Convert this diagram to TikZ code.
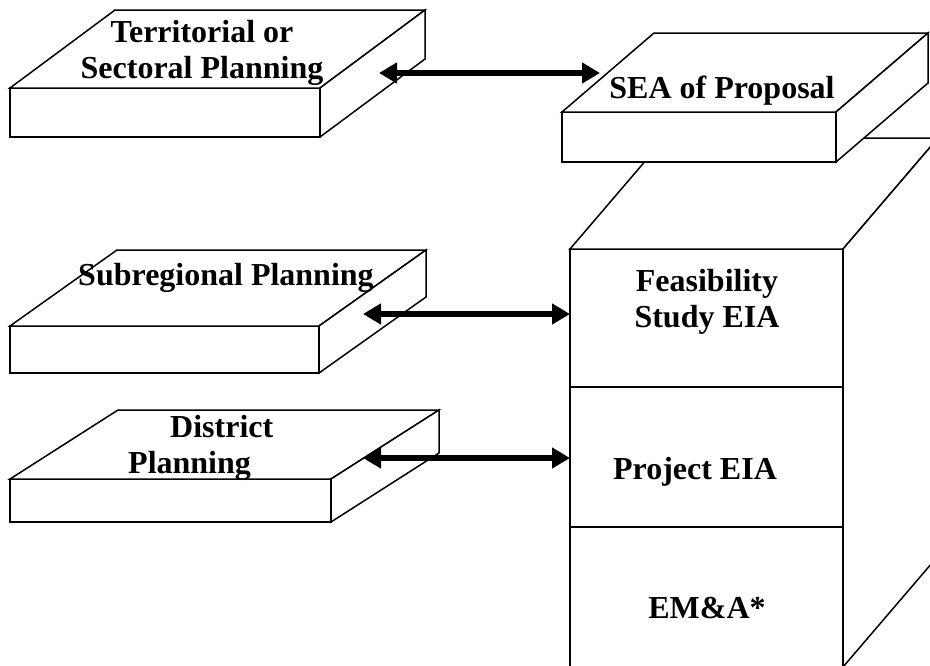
\documentclass[tikz,border=0pt]{standalone}
\usepackage{fontspec}
\setmainfont{Liberation Serif}
\usetikzlibrary{calc,arrows.meta}

\begin{document}
\begin{tikzpicture}[
    x=1pt, y=-1pt,
    every node/.style={font=\bfseries\fontsize{32}{36}\selectfont},
    face/.style={draw, fill=white, line width=1.5pt, line join=miter},
    front/.style={face, inner sep=0pt, outer sep=0pt, anchor=north west},
    label/.style={align=center, inner sep=0pt},
    link/.style={{Triangle[length=18pt,width=20pt]}-{Triangle[length=18pt,width=20pt]}, line width=6pt}
]
    \useasboundingbox (0,0) rectangle (930,665);
    \clip (0,0) rectangle (930,665);

    % Assessment column (front faces, top to bottom)
    \node[front, minimum width=273pt, minimum height=138pt] (feas) at (570,249) {};
    \node[front, minimum width=273pt, minimum height=140pt] (proj) at (feas.south west) {};
    \node[front, minimum width=273pt, minimum height=140pt] (ema) at (proj.south west) {};
    \draw[face] (feas.north west) -- ++(95,-111) -- ($(feas.north east)+(95,-111)$) -- (feas.north east) -- cycle;
    \draw[face] (feas.north east) -- ++(95,-111) -- ($(ema.south east)+(95,-111)$) -- (ema.south east) -- cycle;

    % Planning slabs (front faces)
    \node[front, minimum width=310pt, minimum height=49pt] (terr) at (10,88) {};
    \node[front, minimum width=274pt, minimum height=50pt] (sea) at (562,112) {};
    \node[front, minimum width=309pt, minimum height=47pt] (subr) at (10,326) {};
    \node[front, minimum width=321pt, minimum height=43pt] (dist) at (10,479) {};

    % Slab tops and sides
    \foreach \s/\dx/\dy in {terr/105/-78, sea/92/-79, subr/107/-76, dist/108/-69} {
        \draw[face] (\s.north west) -- ++(\dx,\dy) -- ($(\s.north east)+(\dx,\dy)$) -- (\s.north east) -- cycle;
        \draw[face] (\s.north east) -- ++(\dx,\dy) -- ($(\s.south east)+(\dx,\dy)$) -- (\s.south east) -- cycle;
    }

    % Labels
    \node[label] (terr-txt) at (202,53) {Territorial or\\Sectoral Planning};
    \node[label, anchor=base] (sea-txt) at (722,98) {SEA of Proposal};
    \node[label, anchor=base] (subr-txt) at (226,285) {Subregional Planning};
    \node[label, align=left, anchor=west] (dist-txt) at (128,448) {\hspace*{42pt}District\\Planning};
    \node[label] (feas-txt) at (707,302) {Feasibility\\Study EIA};
    \node[label, anchor=base] (proj-txt) at (695,479) {Project EIA};
    \node[label, anchor=base] (ema-txt) at (707,618) {EM\&A*};

    % Links
    \coordinate (terr-link) at (379,73);
    \coordinate (sea-link) at (600,73);
    \coordinate (subr-link) at (363,314);
    \coordinate (dist-link) at (363,458);
    \draw[link] (terr-link) -- (sea-link);
    \draw[link] (subr-link) -- (subr-link -| feas.west);
    \draw[link] (dist-link) -- (dist-link -| proj.west);
\end{tikzpicture}
\end{document}
